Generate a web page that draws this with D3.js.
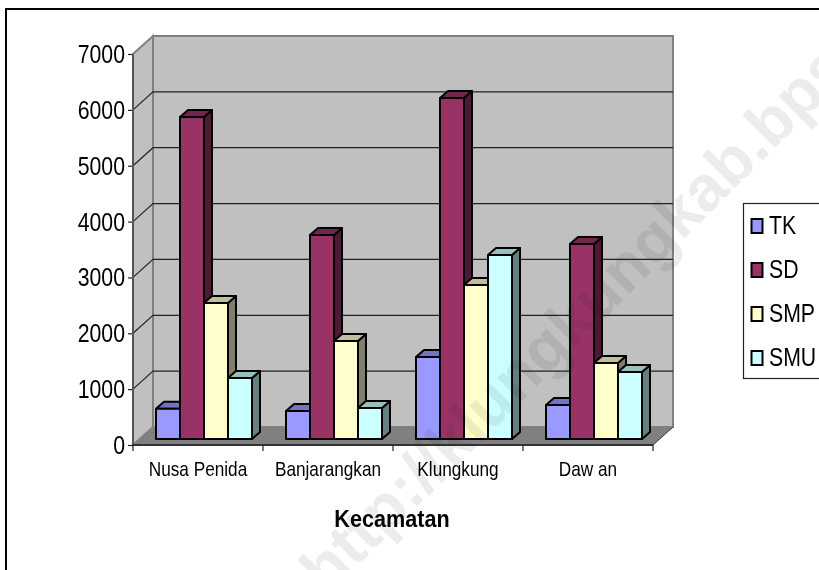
<!DOCTYPE html>
<html>
<head>
<meta charset="utf-8">
<style>
body { margin: 0; background: #fff; }
svg { display: block; }
text { font-family: "Liberation Sans", Arial, sans-serif; fill: #000; }
.axis .domain { display: none; }
.axis text { font-family: "Liberation Sans", Arial, sans-serif; }
</style>
</head>
<body>
<svg width="819" height="570" id="chart"></svg>
<script src="https://d3js.org/d3.v7.min.js"></script>
<script>
var categories = ["Nusa Penida", "Banjarangkan", "Klungkung", "Daw an"];
var seriesNames = ["TK", "SD", "SMP", "SMU"];
var tk = [540, 500, 1470, 610];
var sd = [5765, 3650, 6105, 3490];
var smp = [2435, 1755, 2755, 1360];
var smu = [1090, 555, 3295, 1200];
var yTicks = [0, 1000, 2000, 3000, 4000, 5000, 6000, 7000];
var seriesColors = ["#9999ff", "#993366", "#ffffcc", "#ccffff"];

var allSeries = [tk, sd, smp, smu];
var svg = d3.select("#chart");

// depth of the 3d box and of each bar
var wallDx = 20, wallDy = -18, barDx = 8, barDy = -7, baseUp = 6;

var x = d3.scaleBand().domain(categories).range([133, 653]);
var inner = d3.scaleBand().domain(seriesNames).range([23, 119]);
var y = d3.scaleLinear().domain([0, 7000]).range([445, 54]);

function shade(c, k) {
  var r = d3.rgb(c);
  return d3.rgb(r.r * k, r.g * k, r.b * k).formatHex();
}
function poly(pts) { return pts.map(function(p) { return p.join(","); }).join(" "); }
// the reference text is horizontally condensed
function squeeze(sel, k) {
  sel.each(function() {
    var t = d3.select(this);
    t.attr("x", (+t.attr("x") || 0) / k).attr("transform", "scale(" + k + ",1)");
  });
}

var x0 = x.range()[0], x1 = x.range()[1], y0 = y(0), yTop = y(7000);

// walls and floor
svg.append("polygon")
  .attr("points", poly([[x0, yTop], [x0 + wallDx, yTop + wallDy], [x0 + wallDx, y0 + wallDy], [x0, y0]]))
  .attr("fill", "#c0c0c0").attr("stroke", "#808080").attr("stroke-width", 2);
svg.append("rect")
  .attr("x", x0 + wallDx).attr("y", yTop + wallDy)
  .attr("width", x1 - x0).attr("height", y0 - yTop)
  .attr("fill", "#c0c0c0").attr("stroke", "#808080").attr("stroke-width", 2);
svg.append("polygon")
  .attr("points", poly([[x0, y0], [x1, y0], [x1 + wallDx, y0 + wallDy], [x0 + wallDx, y0 + wallDy]]))
  .attr("fill", "#808080");

// gridlines, back wall and side wall
var grid = svg.append("g").attr("stroke", "#222").attr("stroke-width", 1.2).attr("fill", "none");
yTicks.slice(1, -1).forEach(function(t) {
  grid.append("polyline")
    .attr("points", poly([[x0, y(t)], [x0 + wallDx, y(t) + wallDy], [x1 + wallDx, y(t) + wallDy]]));
});
svg.append("line")
  .attr("x1", x0).attr("y1", y0).attr("x2", x0 + wallDx).attr("y2", y0 + wallDy)
  .attr("stroke", "#808080").attr("stroke-width", 1);
svg.append("line")
  .attr("x1", x1).attr("y1", y0).attr("x2", x1 + wallDx).attr("y2", y0 + wallDy)
  .attr("stroke", "#333").attr("stroke-width", 1);

// bars
categories.forEach(function(cat, ci) {
  seriesNames.forEach(function(name, si) {
    var v = allSeries[si][ci];
    var bx = x(cat) + inner(name), bw = inner.bandwidth();
    var top = y(v) - baseUp, bot = y(0) - baseUp;
    var g = svg.append("g").attr("stroke", "#000").attr("stroke-width", 2).attr("stroke-linejoin", "round");
    g.append("polygon")
      .attr("points", poly([[bx + bw, top], [bx + bw + barDx, top + barDy], [bx + bw + barDx, bot + barDy], [bx + bw, bot]]))
      .attr("fill", shade(seriesColors[si], 0.5));
    g.append("polygon")
      .attr("points", poly([[bx, top], [bx + barDx, top + barDy], [bx + bw + barDx, top + barDy], [bx + bw, top]]))
      .attr("fill", shade(seriesColors[si], 0.75));
    g.append("rect")
      .attr("x", bx).attr("y", top).attr("width", bw).attr("height", bot - top)
      .attr("fill", seriesColors[si]);
  });
});

// axes
var yAxis = svg.append("g").attr("class", "axis")
  .call(d3.axisLeft(y).tickValues(yTicks).tickFormat(d3.format("d")).tickSize(5).tickPadding(3))
  .attr("transform", "translate(" + x0 + ",0)");
yAxis.selectAll("line").attr("stroke", "#222").attr("stroke-width", 1.2);
yAxis.selectAll("text").style("font-size", "25px").attr("dy", "0.34em").call(squeeze, 0.85);
svg.append("line")
  .attr("x1", x0).attr("y1", yTop).attr("x2", x0).attr("y2", y0)
  .attr("stroke", "#555").attr("stroke-width", 2);
svg.append("line")
  .attr("x1", x0 - 1).attr("y1", y0).attr("x2", x1).attr("y2", y0)
  .attr("stroke", "#333").attr("stroke-width", 2);

var xAxis = svg.append("g").attr("class", "axis")
  .attr("transform", "translate(0," + y0 + ")")
  .call(d3.axisBottom(x).tickSize(0).tickPadding(16));
xAxis.selectAll("text").style("font-size", "21px").call(squeeze, 0.82);
categories.concat([null]).forEach(function(cat) {
  var tx = cat === null ? x1 : x(cat);
  svg.append("line")
    .attr("x1", tx).attr("y1", y0).attr("x2", tx).attr("y2", y0 + 6)
    .attr("stroke", "#222").attr("stroke-width", 1.2);
});

svg.append("text")
  .attr("x", 392).attr("y", 527).attr("text-anchor", "middle")
  .style("font-size", "23px").style("font-weight", "bold")
  .text("Kecamatan").call(squeeze, 0.94);

// legend
svg.append("rect")
  .attr("x", 743.5).attr("y", 203.5).attr("width", 90).attr("height", 175)
  .attr("fill", "#fff").attr("stroke", "#222").attr("stroke-width", 1.2);
var legendY = d3.scalePoint().domain(seriesNames).range([226, 358]);
seriesNames.forEach(function(name, i) {
  svg.append("rect")
    .attr("x", 751.5).attr("y", legendY(name) - 7).attr("width", 11).attr("height", 14)
    .attr("fill", seriesColors[i]).attr("stroke", "#000").attr("stroke-width", 2);
  svg.append("text")
    .attr("x", 769).attr("y", legendY(name) + 8)
    .style("font-size", "25px").text(name).call(squeeze, 0.85);
});

// frame
svg.append("line").attr("x1", 6).attr("y1", 9).attr("x2", 819).attr("y2", 9)
  .attr("stroke", "#000").attr("stroke-width", 2);
svg.append("line").attr("x1", 6).attr("y1", 8).attr("x2", 6).attr("y2", 570)
  .attr("stroke", "#000").attr("stroke-width", 2);

// watermark
svg.append("text")
  .attr("transform", "translate(327,596) rotate(-45)")
  .style("font-size", "64px").style("font-weight", "bold")
  .style("fill", "#ececec").style("mix-blend-mode", "multiply")
  .text("http://klungkungkab.bps");
</script>
</body>
</html>
